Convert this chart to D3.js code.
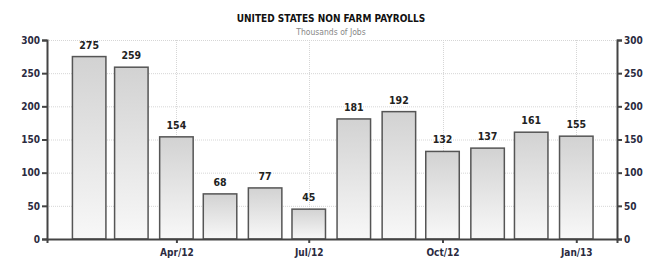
<!DOCTYPE html>
<html>
<head>
<meta charset="utf-8">
<script src="https://cdn.jsdelivr.net/npm/d3@7"></script>
<style>
  body { margin: 0; background: #fff; }
  text { font-family: "DejaVu Sans Condensed", "DejaVu Sans", sans-serif; }
</style>
</head>
<body>
<div id="chart"></div>
<script>
// monthly non farm payrolls, thousands
var months = ["2012-02", "2012-03", "2012-04", "2012-05", "2012-06", "2012-07",
              "2012-08", "2012-09", "2012-10", "2012-11", "2012-12", "2013-01"];
var payrolls = [275, 259, 154, 68, 77, 45, 181, 192, 132, 137, 161, 155];
var yTicks = [0, 50, 100, 150, 200, 250, 300];
var xTicks = ["2012-04", "2012-07", "2012-10", "2013-01"];

var W = 672, H = 272;
var margin = {top: 40, right: 55, bottom: 33, left: 47},
    w = W - margin.left - margin.right,
    h = H - margin.top - margin.bottom;

var parse = d3.utcParse("%Y-%m");
var data = months.map(function(m, i) { return {date: parse(m), value: payrolls[i]}; });

var svg = d3.select("#chart")
  .append("svg")
  .attr("width", W)
  .attr("height", H);

var defs = svg.append("defs");
var grad = defs.append("linearGradient")
  .attr("id", "barGrad")
  .attr("x1", 0).attr("y1", 0).attr("x2", 0).attr("y2", 1);
grad.append("stop").attr("offset", "0%").attr("stop-color", "#d2d2d2");
grad.append("stop").attr("offset", "100%").attr("stop-color", "#f8f8f8");

var g = svg.append("g")
  .attr("transform", `translate(${margin.left},${margin.top})`);

var x = d3.scaleUtc()
  .domain([new Date(Date.UTC(2012, 0, 3)), new Date(Date.UTC(2013, 0, 29))])
  .range([0, w]);

var y = d3.scaleLinear()
  .domain([0, 300])
  .range([h, 0]);

var barW = 33.5;

// grid
g.append("g")
  .selectAll("line")
  .data(yTicks.slice(1))
  .enter()
  .append("line")
  .attr("x1", 0).attr("x2", w)
  .attr("y1", d => y(d) + 0.5).attr("y2", d => y(d) + 0.5)
  .attr("stroke", "#d6d6d6")
  .attr("stroke-dasharray", "1,1");

g.append("g")
  .selectAll("line")
  .data(xTicks.map(parse))
  .enter()
  .append("line")
  .attr("x1", d => Math.round(x(d)) + 0.5).attr("x2", d => Math.round(x(d)) + 0.5)
  .attr("y1", 0).attr("y2", h)
  .attr("stroke", "#d6d6d6")
  .attr("stroke-dasharray", "1,1");

// bars
g.selectAll(".bar")
  .data(data)
  .enter()
  .append("rect")
  .attr("class", "bar")
  .attr("x", d => x(d.date) - barW / 2)
  .attr("y", d => y(d.value))
  .attr("width", barW)
  .attr("height", d => h - y(d.value))
  .attr("fill", "url(#barGrad)")
  .attr("stroke", "#555")
  .attr("stroke-width", 1.5);

g.selectAll(".val")
  .data(data)
  .enter()
  .append("text")
  .attr("x", d => x(d.date))
  .attr("y", d => y(d.value) - 8)
  .attr("text-anchor", "middle")
  .style("font-size", "10.5px")
  .style("font-weight", "bold")
  .style("fill", "#222")
  .text(d => d.value);

// axes
var left = g.append("g")
  .call(d3.axisLeft(y).tickValues(yTicks).tickSize(5).tickPadding(2));
var right = g.append("g")
  .attr("transform", `translate(${w},0)`)
  .call(d3.axisRight(y).tickValues(yTicks).tickSize(5).tickPadding(2));
var bottom = g.append("g")
  .attr("transform", `translate(0,${h})`)
  .call(d3.axisBottom(x).tickValues(xTicks.map(parse)).tickFormat(d3.utcFormat("%b/%y")).tickSize(4).tickPadding(6));

[left, right, bottom].forEach(function(a) {
  a.select(".domain").attr("stroke", "#444").attr("stroke-width", 2);
  a.selectAll(".tick line").attr("stroke", "#444").attr("stroke-width", 2);
  a.selectAll("text")
    .style("font-family", "'DejaVu Sans Condensed', 'DejaVu Sans', sans-serif")
    .style("font-size", "10px")
    .style("font-weight", "bold")
    .style("fill", "#2b2b3f");
});

// titles
svg.append("text")
  .attr("x", 331)
  .attr("y", 22)
  .attr("text-anchor", "middle")
  .style("font-size", "10px")
  .style("font-weight", "bold")
  .style("fill", "#111")
  .text("UNITED STATES NON FARM PAYROLLS");

svg.append("text")
  .attr("x", 331)
  .attr("y", 35)
  .attr("text-anchor", "middle")
  .style("font-size", "8.5px")
  .style("fill", "#888")
  .text("Thousands of Jobs");
</script>
</body>
</html>
